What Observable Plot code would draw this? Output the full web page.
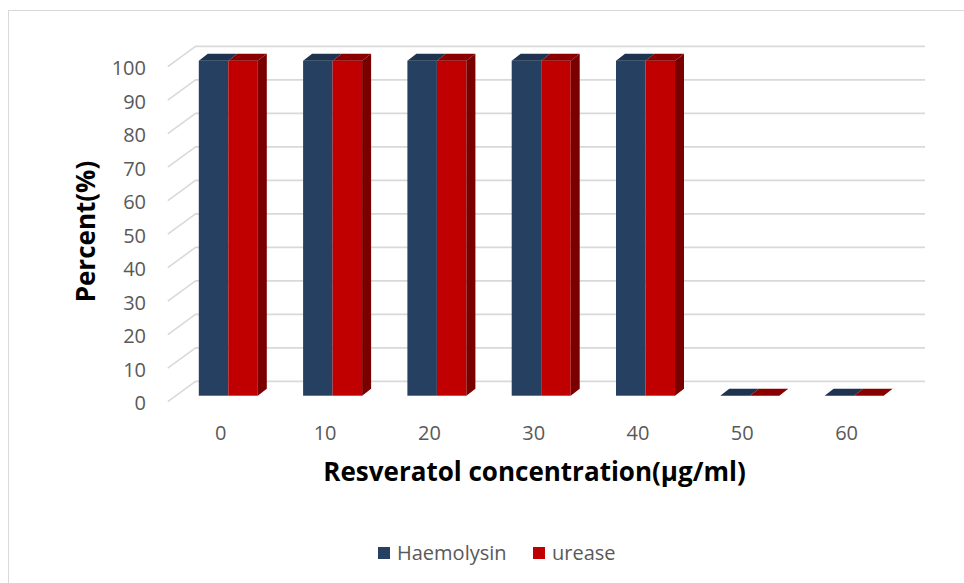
<!DOCTYPE html>
<html>
<head>
<meta charset="utf-8">
<script src="https://cdn.jsdelivr.net/npm/d3@7"></script>
<script src="https://cdn.jsdelivr.net/npm/@observablehq/plot@0.6"></script>
<style>
  html, body { margin: 0; padding: 0; background: #fff; overflow: hidden; }
  #frame { position: absolute; left: 8px; top: 10px; width: 1000px; height: 620px;
           border: 1.5px solid #d9d9d9; box-sizing: border-box; pointer-events: none; }
  #chart { position: absolute; left: 0; top: 0; }
  #legend { position: absolute; left: 0; top: 530px; width: 964px; height: 44px;
            font-family: "Open Sans", sans-serif; font-size: 20px; color: #595959; }
  .item { position: absolute; top: 9px; display: flex; align-items: center; gap: 7px; }
  .sw { width: 12px; height: 12px; display: inline-block; }
</style>
</head>
<body>
<div id="frame"></div>
<div id="chart"></div>
<div id="legend"></div>
<script>
// ---- data ----
const categories = ["0", "10", "20", "30", "40", "50", "60"];
const haemolysin = [100, 100, 100, 100, 100, 0, 0];
const urease = [100, 100, 100, 100, 100, 0, 0];
const seriesNames = ["Haemolysin", "urease"];
const yTicks = [0, 10, 20, 30, 40, 50, 60, 70, 80, 90, 100];
const xTitle = "Resveratol concentration(μg/ml)";
const yTitle = "Percent(%)";

// ---- styling / geometry ----
const frontColors = ["#254061", "#c00000"];
const topColors = ["#1d3350", "#8a0000"];
const sideColor = "#7a0000";
const grid = "#d9d9d9";
const font = "Open Sans";

const PX = 104.3;   // pixels per category step
const PY = 3.35;    // pixels per percent unit
const X0 = 228.3, Y0 = 395.7;
const toIx = px => (px - X0) / PX;
const bw = 29.5 / PX;            // bar width (index units)
const ddx = 9 / PX, ddy = 7 / PY; // depth offset
const backUp = 14.8 / PY, frontDown = 5.5 / PY;
const wallL = toIx(167.3), backL = toIx(195), backR = toIx(925);

const series = [haemolysin, urease];
const fronts = [], tops = [], sides = [];
categories.forEach((c, i) => {
  series.forEach((vals, s) => {
    const v = vals[i];
    const a = i - bw + s * bw, b = a + bw;
    const id = c + "-" + s;
    fronts.push({x1: a, x2: b, y1: 0, y2: v, s});
    tops.push({id, s, y: v, x1: a, x2: b});
    tops.push({id, s, y: v + ddy, x1: a + ddx, x2: b + ddx});
    if (s === 1) {
      sides.push({id, x: b, y1: 0, y2: v});
      sides.push({id, x: b + ddx, y1: ddy, y2: v + ddy});
    }
  });
});

const chart = Plot.plot({
  width: 964,
  height: 530,
  x: {type: "linear", domain: [0, 6], range: [X0, X0 + 6 * PX], axis: null},
  y: {type: "linear", domain: [0, 100], range: [Y0, Y0 - 100 * PY], axis: null},
  style: {fontFamily: font, background: "transparent"},
  marks: [
    // left wall diagonals
    Plot.link(yTicks, {x1: wallL, y1: d => d - frontDown, x2: backL, y2: d => d + backUp,
      stroke: grid, strokeWidth: 1.6}),
    // back wall gridlines
    Plot.ruleY(yTicks, {x1: backL, x2: backR, y: d => d + backUp, stroke: grid, strokeWidth: 1.6}),
    // bars: blue front, blue top, red front, red top, red side
    Plot.rect(fronts.filter(d => d.s === 0), {x1: "x1", x2: "x2", y1: "y1", y2: "y2", fill: frontColors[0]}),
    Plot.areaX(tops.filter(d => d.s === 0), {y: "y", x1: "x1", x2: "x2", z: "id", fill: topColors[0]}),
    Plot.rect(fronts.filter(d => d.s === 1), {x1: "x1", x2: "x2", y1: "y1", y2: "y2", fill: frontColors[1]}),
    Plot.areaX(tops.filter(d => d.s === 1), {y: "y", x1: "x1", x2: "x2", z: "id", fill: topColors[1]}),
    Plot.areaY(sides, {x: "x", y1: "y1", y2: "y2", z: "id", fill: sideColor}),
    // y tick labels
    Plot.text(yTicks, {x: toIx(145.5), y: d => d, dy: 7.5, text: d => String(d), textAnchor: "end",
      fill: "#595959", fontSize: 20}),
    // x tick labels
    Plot.text(categories, {x: (d, i) => i, y: 0, dx: -8, dy: 37, text: d => d,
      fill: "#595959", fontSize: 20}),
    // axis titles
    Plot.text([xTitle], {x: toIx(534), y: 0, dy: 76, text: d => d, fontWeight: "bold",
      fontSize: 26, fill: "#000"}),
    Plot.text([yTitle], {x: toIx(86.5), y: (Y0 - 231) / PY, rotate: -90, text: d => d,
      fontWeight: "bold", fontSize: 26, fill: "#000"})
  ]
});
document.getElementById("chart").appendChild(chart);

// legend
const legend = document.getElementById("legend");
const legendLeft = [378, 533];
seriesNames.forEach((name, s) => {
  const item = document.createElement("div");
  item.className = "item";
  item.style.left = legendLeft[s] + "px";
  const sw = document.createElement("span");
  sw.className = "sw";
  sw.style.background = frontColors[s];
  const t = document.createElement("span");
  t.textContent = name;
  item.appendChild(sw);
  item.appendChild(t);
  legend.appendChild(item);
});
</script>
</body>
</html>
